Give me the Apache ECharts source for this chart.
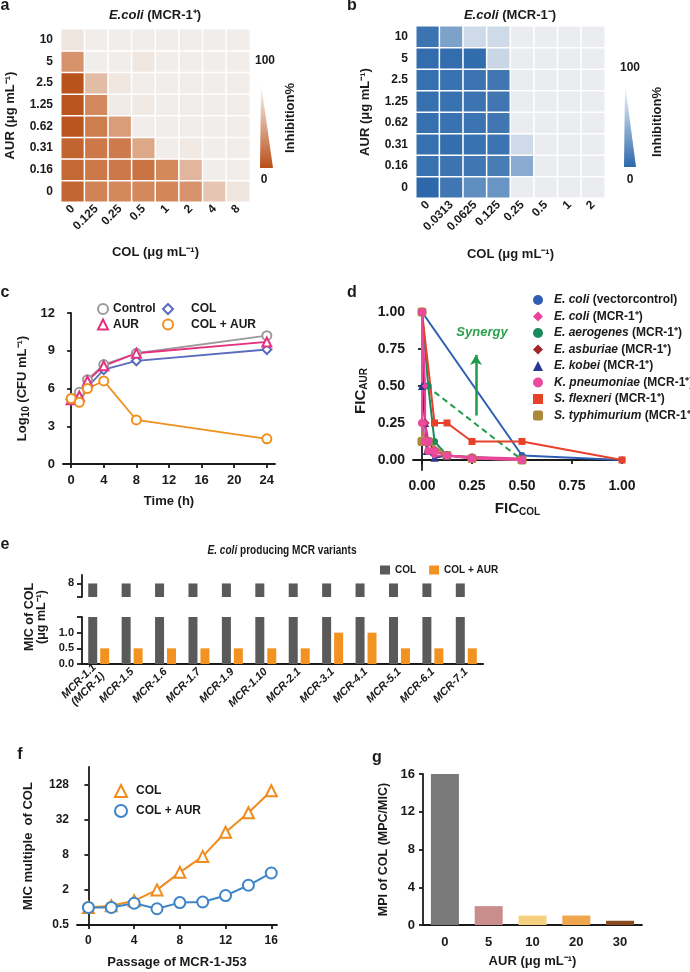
<!DOCTYPE html>
<html>
<head>
<meta charset="utf-8">
<script src="https://cdn.jsdelivr.net/npm/echarts@6/dist/echarts.min.js"></script>
<style>
  html, body { margin: 0; padding: 0; background: #fff; }
  #fig { width: 690px; height: 972px; }
</style>
</head>
<body>
<div id="fig"></div>
<script>
// ---- a / b : checkerboard heatmaps (inhibition %) ----
const colA = ['0', '0.125', '0.25', '0.5', '1', '2', '4', '8'];
const colB = ['0', '0.0313', '0.0625', '0.125', '0.25', '0.5', '1', '2'];
const aurLevels = ['0', '0.16', '0.31', '0.62', '1.25', '2.5', '5', '10'];
// rows from AUR 0 (bottom) to AUR 10 (top)
const inhibA = [
  [20, 45, 50, 50, 48, 55, 80, 95],
  [22, 35, 35, 32, 50, 72, 99, 99],
  [18, 35, 38, 65, 99, 97, 99, 99],
  [5, 40, 60, 99, 99, 99, 99, 99],
  [5, 50, 98, 97, 99, 99, 99, 99],
  [3, 75, 96, 99, 99, 99, 99, 99],
  [55, 99, 99, 96, 99, 99, 99, 99],
  [95, 99, 99, 99, 99, 99, 99, 99]
];
const inhibB = [
  [0, 15, 38, 45, 99, 99, 99, 99],
  [10, 12, 15, 20, 60, 99, 99, 99],
  [8, 6, 10, 12, 88, 99, 99, 99],
  [8, 10, 12, 15, 99, 99, 99, 99],
  [8, 10, 12, 15, 99, 99, 99, 99],
  [8, 10, 12, 15, 99, 99, 99, 99],
  [5, 5, 4, 86, 99, 99, 99, 99],
  [12, 55, 88, 88, 99, 99, 99, 99]
];

// ---- c : time-kill ----
const timeH = [0, 1, 2, 4, 8, 24];
const cfuControl = [5.2, 5.7, 6.7, 7.9, 8.8, 10.2];
const cfuAur = [5.1, 5.4, 6.6, 7.8, 8.8, 9.7];
const cfuCol = [5.1, 5.0, 6.1, 7.5, 8.2, 9.1];
const cfuColAur = [5.2, 4.9, 6.0, 6.6, 3.5, 2.0];

// ---- d : FIC isobolograms [FIC_COL, FIC_AUR] ----
const ficVector = [[0, 1], [0.5, 0.03], [1, 0]];
const ficEcoli = [[0, 1], [0.0156, 0.5], [0.0156, 0.25], [0.0312, 0.06], [0.0625, 0.03], [0.125, 0.03], [0.25, 0.02], [0.5, 0.01]];
const ficAerogenes = [[0, 1], [0.0312, 0.5], [0.0625, 0.125], [0.125, 0.03], [0.25, 0.02], [0.5, 0]];
const ficAsburiae = [[0, 1], [0.0156, 0.25], [0.0312, 0.125], [0.0625, 0.06], [0.125, 0.03], [0.25, 0.015], [0.5, 0.005]];
const ficKobei = [[0, 0.5], [0.0156, 0.25], [0.0234, 0.06], [0.0625, 0.015], [0.125, 0.03]];
const ficKpneu = [[0, 1], [0, 0.25], [0.0156, 0.125], [0.0312, 0.125], [0.0312, 0.06], [0.0625, 0.06], [0.125, 0.03], [0.25, 0.01], [0.5, 0]];
const ficFlexneri = [[0, 1], [0.0625, 0.25], [0.125, 0.25], [0.25, 0.125], [0.5, 0.125], [1, 0]];
const ficTyphi = [[0, 1], [0, 0.125], [0.0312, 0.125], [0.125, 0.03], [0.25, 0.01], [0.5, 0]];
const ficAdditive = [[0.0234, 0.5], [0.5, 0]];

// ---- e : MIC of COL for MCR variants ----
const mcrVariants = ['MCR-1.1\n(MCR-1)', 'MCR-1.5', 'MCR-1.6', 'MCR-1.7', 'MCR-1.9', 'MCR-1.10',
  'MCR-2.1', 'MCR-3.1', 'MCR-4.1', 'MCR-5.1', 'MCR-6.1', 'MCR-7.1'];
const micCol = [8, 8, 8, 8, 8, 8, 8, 8, 8, 8, 8, 8];
const micColAur = [0.5, 0.5, 0.5, 0.5, 0.5, 0.5, 0.5, 1, 1, 0.5, 0.5, 0.5];

// ---- f : serial passage ----
const passage = [0, 2, 4, 6, 8, 10, 12, 14, 16];
const mpCol = [1, 1.07, 1.3, 2, 4, 7.5, 19.5, 42, 100];
const mpColAur = [1, 1, 1.18, 0.95, 1.21, 1.24, 1.6, 2.4, 3.9];

// ---- g : mutant prevention index ----
const aurDose = ['0', '5', '10', '20', '30'];
const mpi = [16, 2, 1, 1, 0.45];
const mpiColors = ['#7a7a7a', '#c98e8c', '#f5d17f', '#f0a64c', '#8a4a1f'];

const FONT = '"Liberation Sans", Arial, Helvetica, sans-serif';
const INK = '#1a1a1a';

function zip(xs, ys) { return xs.map((x, i) => [x, ys[i]]); }
function cells(rows) {
  const out = [];
  rows.forEach((row, r) => row.forEach((v, c) => out.push([c, r, v])));
  return out;
}
function ax(o) {
  const base = {
    nameLocation: 'middle',
    nameTextStyle: { color: INK, fontFamily: FONT, fontWeight: 'bold', fontSize: 13 },
    axisLine: { show: true, lineStyle: { color: INK, width: 1.8 } },
    axisTick: { show: true, length: 4, lineStyle: { color: INK, width: 1.8 } },
    axisLabel: { color: INK, fontFamily: FONT, fontWeight: 'bold', fontSize: 13 },
    splitLine: { show: false }
  };
  for (const k in o) {
    if (base[k] && typeof o[k] === 'object' && !Array.isArray(o[k])) base[k] = Object.assign({}, base[k], o[k]);
    else base[k] = o[k];
  }
  return base;
}
function txt(x, y, text, extra) {
  extra = extra || {};
  return {
    type: 'text', x: x, y: y, rotation: extra.rot || 0, scaleX: extra.sx || 1,
    style: Object.assign({
      text: text, fill: INK, fontFamily: FONT, fontWeight: 'bold', fontSize: 13,
      align: 'center', verticalAlign: 'middle'
    }, extra.style)
  };
}
const subRich = {
  n: { fontFamily: FONT, fontWeight: 'bold', fontSize: 15, color: INK },
  s: { fontFamily: FONT, fontWeight: 'bold', fontSize: 10, color: INK, padding: [7, 0, 0, 0] }
};

const chart = echarts.init(document.getElementById('fig'));

const heatAxis = (idx, data, name, gap, isX) => ax({
  type: 'category', gridIndex: idx, data: data, name: name, nameGap: gap,
  axisLine: { show: false }, axisTick: { show: false },
  axisLabel: isX ? { rotate: 45, margin: 5, fontSize: 12 } : { margin: 8, fontSize: 12 }
});

const ficSeries = [
  ['E. coli (vectorcontrol)', ficVector, '#2f5fb3', 'circle', 7],
  ['E. coli (MCR-1⁺)', ficEcoli, '#e8429a', 'diamond', 7],
  ['E. aerogenes (MCR-1⁺)', ficAerogenes, '#1a8a5c', 'circle', 7],
  ['E. asburiae (MCR-1⁺)', ficAsburiae, '#a3262a', 'diamond', 9],
  ['E. kobei (MCR-1⁺)', ficKobei, '#283891', 'triangle', 8],
  ['K. pneumoniae (MCR-1⁺)', ficKpneu, '#ec4a9c', 'circle', 8],
  ['S. flexneri (MCR-1⁺)', ficFlexneri, '#e8412a', 'rect', 7],
  ['S. typhimurium (MCR-1⁺)', ficTyphi, '#a98a3a', 'roundRect', 9]
];
const ficDrawOrder = [0, 2, 6, 7, 4, 3, 1, 5];

const series = [
  { type: 'heatmap', xAxisIndex: 0, yAxisIndex: 0, data: cells(inhibA),
    itemStyle: { borderColor: '#fff', borderWidth: 1.5 } },
  { type: 'heatmap', xAxisIndex: 1, yAxisIndex: 1, data: cells(inhibB),
    itemStyle: { borderColor: '#fff', borderWidth: 1.5 } }
];

[['Control', cfuControl, '#9b9b9b', 'emptyCircle'],
 ['COL', cfuCol, '#5b6bbd', 'emptyDiamond'],
 ['AUR', cfuAur, '#e6307f', 'emptyTriangle'],
 ['COL + AUR', cfuColAur, '#f0901e', 'emptyCircle']].forEach(s => {
  series.push({
    name: s[0], type: 'line', xAxisIndex: 2, yAxisIndex: 2, data: zip(timeH, s[1]),
    symbol: s[3], symbolSize: 9, lineStyle: { color: s[2], width: 1.8 },
    itemStyle: { color: s[2], borderWidth: 2 }
  });
});

series.push({
  type: 'line', xAxisIndex: 3, yAxisIndex: 3, data: ficAdditive, symbol: 'none',
  lineStyle: { color: '#1f9a48', width: 2, type: [6, 4] },
  markLine: {
    silent: true, symbol: ['none', 'arrow'], symbolSize: [9, 10],
    lineStyle: { color: '#1f9a48', width: 2.5, type: 'solid' }, label: { show: false },
    data: [[{ coord: [0.27, 0.3] }, { coord: [0.27, 0.71] }]]
  },
  markPoint: {
    symbol: 'circle', symbolSize: 0, data: [{ coord: [0.3, 0.86] }],
    label: { show: true, position: 'inside', formatter: 'Synergy', color: '#2ca04c',
      fontFamily: FONT, fontStyle: 'italic', fontWeight: 'bold', fontSize: 13 }
  }
});
ficDrawOrder.forEach(i => {
  const s = ficSeries[i];
  series.push({
    name: s[0], type: 'line', xAxisIndex: 3, yAxisIndex: 3, data: s[1],
    symbol: s[3], symbolSize: s[4], lineStyle: { color: s[2], width: 2 },
    itemStyle: { color: s[2] }
  });
});

[4, 5].forEach(g => {
  series.push({ name: 'e:COL', type: 'bar', xAxisIndex: g, yAxisIndex: g, data: micCol,
    barWidth: 9, barGap: '33%', itemStyle: { color: '#5a5a5a' } });
  series.push({ name: 'e:COL + AUR', type: 'bar', xAxisIndex: g, yAxisIndex: g, data: micColAur,
    barWidth: 9, barGap: '33%', itemStyle: { color: '#f29221' } });
});

series.push({ name: 'f:COL', type: 'line', xAxisIndex: 6, yAxisIndex: 6, data: zip(passage, mpCol),
  symbol: 'emptyTriangle', symbolSize: 11, lineStyle: { color: '#f08c1e', width: 2 },
  itemStyle: { color: '#f08c1e', borderWidth: 2 } });
series.push({ name: 'f:COL + AUR', type: 'line', xAxisIndex: 6, yAxisIndex: 6, data: zip(passage, mpColAur),
  symbol: 'emptyCircle', symbolSize: 11, lineStyle: { color: '#3d85c6', width: 2 },
  itemStyle: { color: '#3d85c6', borderWidth: 2 } });

series.push({ type: 'bar', xAxisIndex: 7, yAxisIndex: 7, barWidth: 28,
  data: mpi.map((v, i) => ({ value: v, itemStyle: { color: mpiColors[i] } })) });

const stripPrefix = n => n.replace(/^[a-z]:/, '');
const legendText = { color: INK, fontFamily: FONT, fontWeight: 'bold', fontSize: 12 };
// empty token used to push legend text away from its symbol
const spacer = w => ({ g: { width: w } });

const option = {
  animation: false,
  backgroundColor: '#fff',
  grid: [
    { left: 61, top: 29, width: 189, height: 173 },
    { left: 416, top: 26, width: 189, height: 172 },
    { left: 63, top: 313, width: 212, height: 151 },
    { left: 413, top: 312, width: 209, height: 158 },
    { left: 82, top: 575, width: 401, height: 22 },
    { left: 82, top: 617, width: 401, height: 47 },
    { left: 77, top: 767, width: 200, height: 158 },
    { left: 423, top: 774, width: 219, height: 151 }
  ],
  xAxis: [
    heatAxis(0, colA, 'COL (μg mL⁻¹)', 44, true),
    heatAxis(1, colB, 'COL (μg mL⁻¹)', 50, true),
    ax({ type: 'value', gridIndex: 2, min: -1, max: 25, name: 'Time (h)', nameGap: 31,
      axisTick: { customValues: [0, 4, 8, 12, 16, 20, 24] },
      axisLabel: { customValues: [0, 4, 8, 12, 16, 20, 24], margin: 10 } }),
    ax({ type: 'value', gridIndex: 3, min: -0.045, max: 1, name: '{n|FIC}{s|COL}', nameGap: 30,
      nameTextStyle: { rich: subRich },
      axisTick: { customValues: [0, 0.25, 0.5, 0.75, 1] },
      axisLabel: { customValues: [0, 0.25, 0.5, 0.75, 1], fontSize: 14, margin: 9, formatter: v => v.toFixed(2) } }),
    ax({ type: 'category', gridIndex: 4, data: mcrVariants, show: false }),
    ax({ type: 'category', gridIndex: 5, data: mcrVariants, axisTick: { show: false },
      axisLine: { show: true, lineStyle: { color: INK, width: 2.2 } },
      axisLabel: { rotate: 45, margin: 6, fontSize: 11, fontStyle: 'italic', lineHeight: 12 } }),
    ax({ type: 'value', gridIndex: 6, min: -1, max: 16.5, name: 'Passage of MCR-1-J53', nameGap: 31,
      axisTick: { customValues: [0, 4, 8, 12, 16] },
      axisLabel: { customValues: [0, 4, 8, 12, 16], fontSize: 12, margin: 10 } }),
    ax({ type: 'category', gridIndex: 7, data: aurDose, name: 'AUR (μg mL⁻¹)', nameGap: 30,
      axisTick: { show: false }, axisLabel: { margin: 11 } })
  ],
  yAxis: [
    heatAxis(0, aurLevels, 'AUR (μg mL⁻¹)', 44, false),
    heatAxis(1, aurLevels, 'AUR (μg mL⁻¹)', 44, false),
    ax({ type: 'value', gridIndex: 2, min: 0, max: 12, interval: 3,
      name: '{n|Log}{s|10}{n| (CFU mL⁻¹)}', nameGap: 32,
      nameTextStyle: { rich: { n: Object.assign({}, subRich.n, { fontSize: 13 }), s: subRich.s } } }),
    ax({ type: 'value', gridIndex: 3, min: -0.068, max: 1, name: '{n|FIC}{s|AUR}', nameGap: 44,
      nameTextStyle: { rich: subRich },
      axisTick: { customValues: [0, 0.25, 0.5, 0.75, 1] },
      axisLabel: { customValues: [0, 0.25, 0.5, 0.75, 1], fontSize: 14, formatter: v => v.toFixed(2) } }),
    ax({ type: 'value', gridIndex: 4, min: 6.4, max: 9,
      axisTick: { customValues: [6.4, 8], length: 5 },
      axisLabel: { customValues: [8], fontSize: 11 } }),
    ax({ type: 'value', gridIndex: 5, min: 0, max: 1.5,
      axisTick: { customValues: [0, 0.5, 1, 1.5], length: 5 },
      axisLabel: { customValues: [0, 0.5, 1], fontSize: 11, formatter: v => v.toFixed(1) } }),
    ax({ type: 'log', logBase: 2, gridIndex: 6, min: 0.5, max: 256, name: 'MIC multiple  of COL', nameGap: 42,
      axisTick: { customValues: [0.5, 2, 8, 32, 128] },
      axisLabel: { customValues: [0.5, 2, 8, 32, 128], fontSize: 12 } }),
    ax({ type: 'value', gridIndex: 7, min: 0, max: 16, interval: 4, name: 'MPI of COL (MPC/MIC)', nameGap: 33,
      nameTextStyle: { fontSize: 12.5 } })
  ],
  visualMap: [
    { seriesIndex: 0, show: false, min: 0, max: 100, inRange: { color: ['#b84f18', '#d4895c', '#f2efed'] } },
    { seriesIndex: 1, show: false, min: 0, max: 100, inRange: { color: ['#2c68aa', '#6f9ac6', '#eceef1'] } }
  ],
  legend: [
    { left: 92, top: 298, orient: 'vertical', itemGap: 3.5, itemWidth: 10, itemHeight: 10,
      selectedMode: false, textStyle: legendText,
      data: [{ name: 'Control', icon: 'emptyCircle' }, { name: 'AUR', icon: 'emptyTriangle' }] },
    { left: 157, top: 298, orient: 'vertical', itemGap: 3.5, itemWidth: 10, itemHeight: 10,
      selectedMode: false, formatter: n => '{g|}' + n,
      textStyle: Object.assign({ rich: spacer(13) }, legendText),
      data: [{ name: 'COL', icon: 'emptyDiamond' }, { name: 'COL + AUR', icon: 'emptyCircle' }] },
    { left: 528, top: 289, orient: 'vertical', itemGap: 4.5, itemWidth: 10, itemHeight: 10,
      selectedMode: false,
      formatter: n => { const k = n.indexOf(' ('); return '{g|}{i|' + n.slice(0, k) + '} {n|' + n.slice(k + 1) + '}'; },
      textStyle: { rich: {
        g: { width: 6 },
        i: { fontFamily: FONT, fontWeight: 'bold', fontStyle: 'italic', fontSize: 12, color: INK },
        n: { fontFamily: FONT, fontWeight: 'bold', fontSize: 12, color: INK } } },
      data: ficSeries.map(s => ({ name: s[0], icon: s[3] })) },
    { left: 375, top: 560, itemGap: 13, itemWidth: 10, itemHeight: 9, selectedMode: false,
      formatter: stripPrefix, textStyle: Object.assign({}, legendText, { fontSize: 10 }),
      data: [{ name: 'e:COL', icon: 'rect' }, { name: 'e:COL + AUR', icon: 'rect' }] },
    { left: 109, top: 779, orient: 'vertical', itemGap: 6, itemWidth: 12, itemHeight: 12,
      selectedMode: false, formatter: n => '{g|}' + stripPrefix(n),
      textStyle: Object.assign({ rich: spacer(4) }, legendText),
      data: [{ name: 'f:COL', icon: 'emptyTriangle' }, { name: 'f:COL + AUR', icon: 'emptyCircle' }] }
  ],
  graphic: [
    txt(5, 6, 'a', { style: { fontSize: 16 } }),
    txt(352, 6, 'b', { style: { fontSize: 16 } }),
    txt(5, 293, 'c', { style: { fontSize: 16 } }),
    txt(352, 293, 'd', { style: { fontSize: 16 } }),
    txt(5, 545, 'e', { style: { fontSize: 16 } }),
    txt(20, 755, 'f', { style: { fontSize: 16 } }),
    txt(377, 758, 'g', { style: { fontSize: 16 } }),
    txt(155, 15, '{i|E.coli} (MCR-1⁺)', { style: { rich: { i: { fontFamily: FONT, fontWeight: 'bold', fontStyle: 'italic', fontSize: 13 } } } }),
    txt(510, 15, '{i|E.coli} (MCR-1⁻)', { style: { rich: { i: { fontFamily: FONT, fontWeight: 'bold', fontStyle: 'italic', fontSize: 13 } } } }),
    txt(282, 551, '{i|E. coli} producing MCR variants', { sx: 0.84, style: { fontSize: 12,
      rich: { i: { fontFamily: FONT, fontWeight: 'bold', fontStyle: 'italic', fontSize: 12 } } } }),
    txt(36, 617, 'MIC of COL\n(μg mL⁻¹)', { rot: Math.PI / 2, style: { fontSize: 12.5, lineHeight: 12 } }),
    {
      type: 'polygon', shape: { points: [[261, 83], [260, 168], [273, 168]] },
      style: { fill: { type: 'linear', x: 0, y: 0, x2: 0, y2: 1,
        colorStops: [{ offset: 0, color: '#ffffff' }, { offset: 1, color: '#b84f18' }] } }
    },
    txt(265, 61, '100', { style: { fontSize: 12 } }),
    txt(264, 180, '0', { style: { fontSize: 12 } }),
    txt(290, 118, 'Inhibition%', { rot: Math.PI / 2 }),
    {
      type: 'polygon', shape: { points: [[625, 83], [624, 167], [636, 167]] },
      style: { fill: { type: 'linear', x: 0, y: 0, x2: 0, y2: 1,
        colorStops: [{ offset: 0, color: '#ffffff' }, { offset: 1, color: '#2c68aa' }] } }
    },
    txt(630, 68, '100', { style: { fontSize: 12 } }),
    txt(630, 180, '0', { style: { fontSize: 12 } }),
    txt(657, 122, 'Inhibition%', { rot: Math.PI / 2 })
  ],
  series: series
};

chart.setOption(option);
window.addEventListener('resize', () => chart.resize());
</script>
</body>
</html>
